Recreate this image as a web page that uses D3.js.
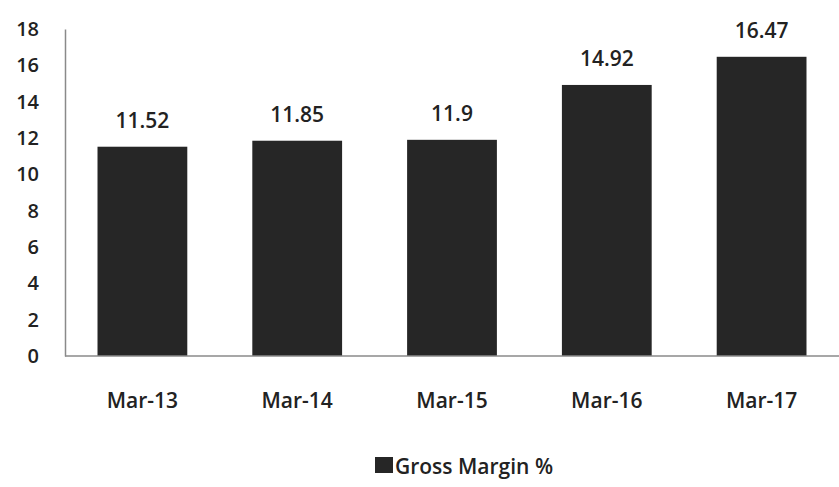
<!DOCTYPE html>
<html>
<head>
<meta charset="utf-8">
<script src="https://cdn.jsdelivr.net/npm/d3@7"></script>
<style>
  body { margin: 0; background: #fff; }
  svg text { font-family: 'Open Sans', sans-serif; fill: #222; font-weight: 600; }
</style>
</head>
<body>
<div id="chart"></div>
<script>
const categories = ['Mar-13', 'Mar-14', 'Mar-15', 'Mar-16', 'Mar-17']
const grossMargin = [11.52, 11.85, 11.9, 14.92, 16.47]
const yTicks = [0, 2, 4, 6, 8, 10, 12, 14, 16, 18]
const seriesName = 'Gross Margin %'

const width = 839
const height = 487
const margin = { top: 29, right: 0, bottom: 131, left: 65 }

const svg = d3.select('#chart').append('svg')
  .attr('width', width)
  .attr('height', height)

const x = d3.scaleBand()
  .domain(categories)
  .range([margin.left, width])
  .paddingInner(0.42)
  .paddingOuter(0.21)

const y = d3.scaleLinear()
  .domain([0, 18])
  .range([height - margin.bottom, margin.top])

// y axis
const yAxis = svg.append('g')
  .attr('transform', 'translate(' + margin.left + ',0)')
  .call(d3.axisLeft(y).tickValues(yTicks).tickSize(0).tickPadding(26))
yAxis.select('.domain').attr('stroke', '#8a8a8a').attr('stroke-width', 1.5)
yAxis.selectAll('text').style('font-size', '20px').attr('fill', '#222')

// bars
svg.selectAll('rect.bar')
  .data(grossMargin)
  .enter()
  .append('rect')
  .attr('class', 'bar')
  .attr('x', (d, i) => x(categories[i]))
  .attr('y', d => y(d))
  .attr('width', x.bandwidth())
  .attr('height', d => y(0) - y(d))
  .attr('fill', '#262626')

// x baseline
svg.append('line')
  .attr('x1', margin.left)
  .attr('x2', width)
  .attr('y1', y(0))
  .attr('y2', y(0))
  .attr('stroke', '#8a8a8a')
  .attr('stroke-width', 1.5)

// value labels
svg.selectAll('text.val')
  .data(grossMargin)
  .enter()
  .append('text')
  .attr('class', 'val')
  .attr('x', (d, i) => x(categories[i]) + x.bandwidth() / 2)
  .attr('y', d => y(d) - 19)
  .attr('text-anchor', 'middle')
  .style('font-size', '21px')
  .text(d => d)

// category labels
svg.selectAll('text.cat')
  .data(categories)
  .enter()
  .append('text')
  .attr('class', 'cat')
  .attr('x', d => x(d) + x.bandwidth() / 2)
  .attr('y', y(0) + 52)
  .attr('text-anchor', 'middle')
  .style('font-size', '21px')
  .text(d => d)

// legend
const legend = svg.append('g').attr('transform', 'translate(375,457)')
legend.append('rect')
  .attr('width', 18)
  .attr('height', 16)
  .attr('fill', '#262626')
legend.append('text')
  .attr('x', 20)
  .attr('y', 17)
  .style('font-size', '21px')
  .text(seriesName)
</script>
</body>
</html>
